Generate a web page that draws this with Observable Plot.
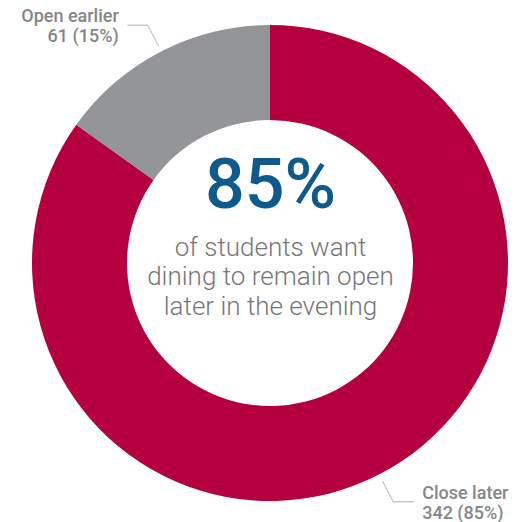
<!DOCTYPE html>
<html>
<head>
<meta charset="utf-8">
<script src="https://cdn.jsdelivr.net/npm/d3@7"></script>
<script src="https://cdn.jsdelivr.net/npm/@observablehq/plot@0.6"></script>
<style>
  html, body { margin: 0; padding: 0; background: #fff; }
  #chart svg { display: block; }
</style>
</head>
<body>
<div id="chart"></div>
<script>
const categories = ["Close later", "Open earlier"];
const counts = [342, 61];
const shares = ["85%", "15%"];
const colors = ["#b5003f", "#939598"];
const headline = "85%";
const subLines = ["of students want", "dining to remain open", "later in the evening"];

const W = 519, H = 522;
const cx = 270, cy = 263, R = 238, r0 = 143;

const pie = d3.pie().sort(null).value(d => d.value)(
  categories.map((c, i) => ({ name: c, value: counts[i], share: shares[i], color: colors[i] }))
);

function donut(index, scales, values, dims, context) {
  const g = d3.create("svg:g");
  const arc = d3.arc().innerRadius(scales.x(r0) - scales.x(0)).outerRadius(scales.x(R) - scales.x(0));
  g.attr("transform", `translate(${scales.x(0)},${scales.y(0)})`);
  g.selectAll("path").data(pie).join("path")
    .attr("d", arc).attr("fill", d => d.data.color);
  return g.node();
}

const leaders = [];
const labels = [];
pie.forEach((p, i) => {
  const a = (p.startAngle + p.endAngle) / 2;
  const sx = Math.sin(a), sy = -Math.cos(a);
  const p1 = [(R + 7) * sx, (R + 7) * sy];
  const p2 = [(R + 30) * sx, (R + 30) * sy];
  const dir = sx >= 0 ? 1 : -1;
  const p3 = [p2[0] + dir * 20, p2[1]];
  [p1, p2, p3].forEach(pt => leaders.push({ k: i, x: pt[0], y: pt[1] }));
  labels.push({ x: p3[0] + dir * 9, y: p3[1] - 3, text: p.data.name, anchor: dir > 0 ? "start" : "end" });
  labels.push({ x: p3[0] + dir * 9, y: p3[1] + 17, text: `${p.data.value} (${p.data.share})`, anchor: dir > 0 ? "start" : "end" });
});

const labelStyle = { x: "x", y: "y", text: "text", lineAnchor: "bottom", fontSize: 18, fontWeight: 500, fill: "#858688", fontFamily: "Roboto" };

const plot = Plot.plot({
  width: W, height: H,
  margin: 0,
  x: { domain: [-cx, W - cx], range: [0, W], axis: null },
  y: { domain: [-cy, H - cy], range: [0, H], axis: null },
  marks: [
    donut,
    Plot.line(leaders, { x: "x", y: "y", z: "k", stroke: "#c8c8c8", strokeWidth: 1.3 }),
    Plot.text(labels.filter(d => d.anchor === "start"), { ...labelStyle, textAnchor: "start" }),
    Plot.text(labels.filter(d => d.anchor === "end"), { ...labelStyle, textAnchor: "end" }),
    Plot.text([headline], { x: () => 0, y: () => -56, text: d => d, lineAnchor: "bottom", fontSize: 70, fontWeight: 500, fill: "#0e5a8c", fontFamily: "Roboto" }),
    Plot.text(subLines, { x: () => 0, y: (d, i) => -8 + i * 29.5, text: d => d, lineAnchor: "bottom", fontSize: 26, fontWeight: 300, fill: "#767676", fontFamily: "Roboto" })
  ]
});
document.getElementById("chart").append(plot);
</script>
</body>
</html>
